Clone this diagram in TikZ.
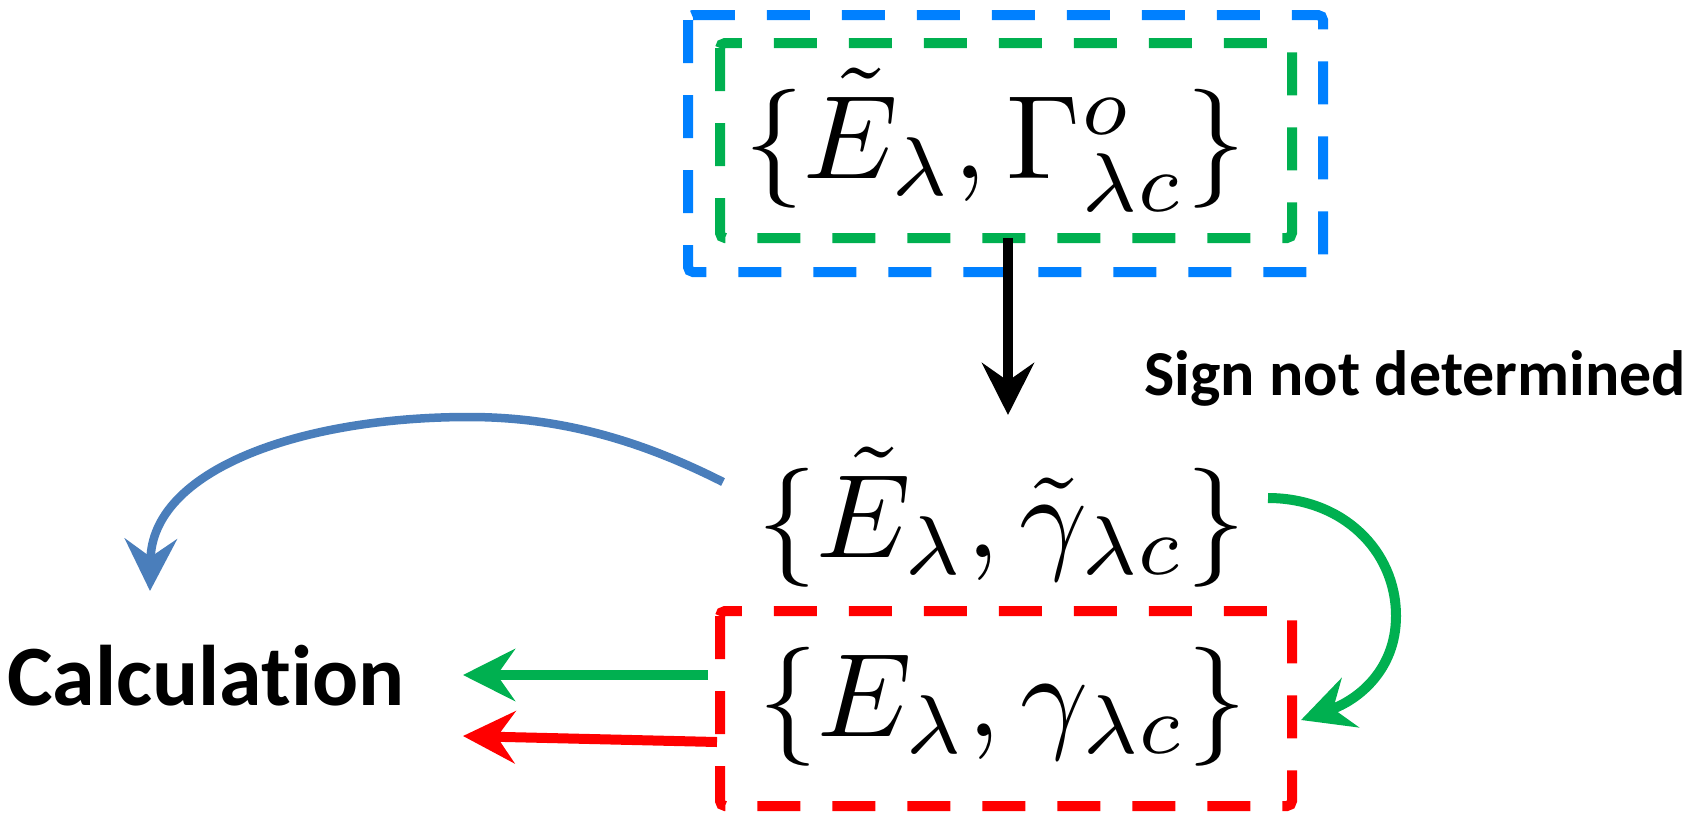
\documentclass[tikz,border=0pt]{standalone}
\usepackage{graphicx}
\usepackage{fontspec}
\newfontfamily\calibrifont{Carlito}[Ligatures=NoCommon]
\usetikzlibrary{arrows.meta}
\definecolor{dblue}{HTML}{0080FF}
\definecolor{dgreen}{HTML}{00B050}
\definecolor{dred}{HTML}{FF0000}
\definecolor{ablue}{HTML}{4A7EBB}
\newcommand{\bigmath}[1]{\scalebox{11.9}{$#1$}}
\begin{document}
\begin{tikzpicture}[x=1pt,y=-1pt,
  dbox/.style={line width=10pt, dash pattern=on 43pt off 32pt, rounded corners=5pt},
  mathtxt/.style={inner sep=0pt, anchor=base west},
  lbl/.style={inner sep=0pt, anchor=base west, font=\calibrifont\bfseries},
  tipped/.style={-{Stealth[length=52pt,width=52pt,inset=18pt]}},
]
\useasboundingbox (0,0) rectangle (1706,812);
% frames
\draw[dbox, dblue] (688,15) rectangle (1323,272);
\draw[dbox, dgreen] (720,43) rectangle (1292,238);
\draw[dbox, dred] (720,611) rectangle (1292,806);
% texts
\node[mathtxt] (top) at (744,178) {\bigmath{\{\tilde{E}_\lambda,\Gamma^{o}_{\lambda c}\}}};
\node[mathtxt] (mid) at (757,557) {\bigmath{\{\tilde{E}_\lambda,\tilde{\gamma}_{\lambda c}\}}};
\node[mathtxt] (bot) at (758,736) {\bigmath{\{E_\lambda,\gamma_{\lambda c}\}}};
\node[lbl, font=\calibrifont\bfseries\fontsize{64}{70}\selectfont] (sign) at (1144,395) {Sign not determined};
\node[lbl, font=\calibrifont\bfseries\fontsize{86}{92}\selectfont] (calc) at (7,705) {Calculation};
% connector end points
\coordinate (a1) at (1008,238);
\coordinate (a2) at (1008,415);
\coordinate (b1) at (723,482);
\coordinate (bpk) at (469,417);
\coordinate (b2) at (150,591);
\coordinate (g1) at (1268,498);
\coordinate (gpk) at (1396,616);
\coordinate (g2) at (1301,720);
\coordinate (s1) at (708,675);
\coordinate (s2) at (463,675);
\coordinate (r1) at (717,742);
\coordinate (r2) at (463,736);
% arrows
\draw[tipped, line width=10.5pt, black] (a1) -- (a2);
\draw[tipped, line width=8.5pt, ablue] (b1) .. controls (640,440) and (560,417) .. (bpk)
   .. controls (300,417) and (152,470) .. (b2);
\draw[tipped, line width=10pt, dgreen] (g1) .. controls (1342,498) and (1396,550) .. (gpk)
   .. controls (1396,670) and (1358,700) .. (g2);
\draw[tipped, line width=10pt, dgreen] (s1) -- (s2);
\draw[tipped, line width=10pt, dred] (r1) -- (r2);
\end{tikzpicture}
\end{document}
